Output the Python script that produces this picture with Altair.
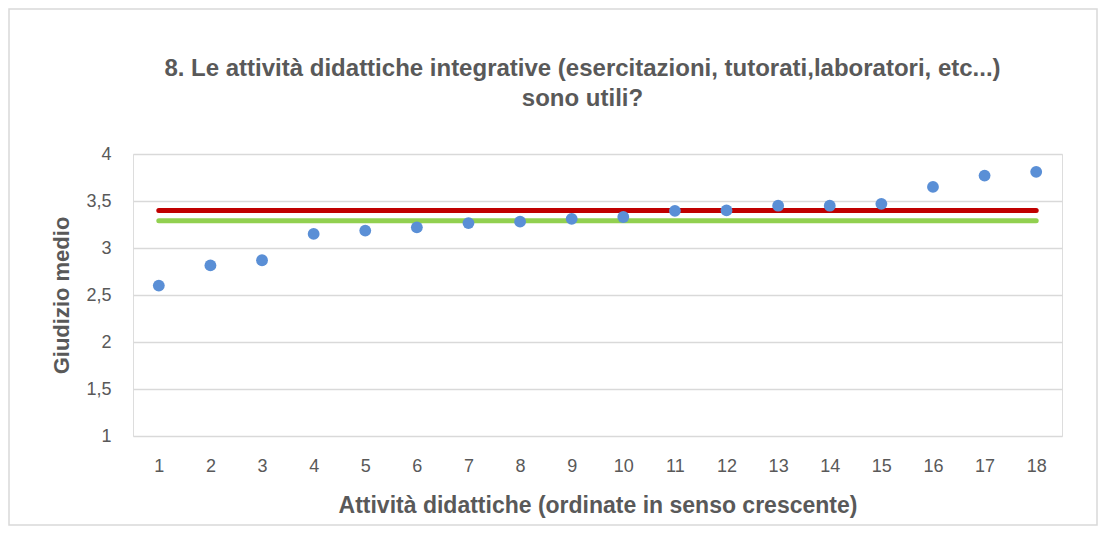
import altair as alt
import pandas as pd

# ---- data ----
categorie = list(range(1, 19))
giudizio_medio = [2.60, 2.815, 2.87, 3.15, 3.185, 3.22, 3.265, 3.28, 3.31,
                  3.33, 3.395, 3.40, 3.45, 3.45, 3.47, 3.65, 3.77, 3.81]
media_rossa = 3.40
media_verde = 3.29

titolo = ["8. Le attività didattiche integrative (esercitazioni, tutorati,laboratori, etc...)",
          "sono utili?"]
titolo_x = "Attività didattiche (ordinate in senso crescente)"
titolo_y = "Giudizio medio"

FONT = "Liberation Sans"
GREY = "#595959"
W, H = 929, 282
PAD = {"left": 125, "top": 146, "right": 36, "bottom": 90}

punti = pd.DataFrame({"cat": categorie, "val": giudizio_medio})
linee = pd.DataFrame({
    "cat": categorie * 2,
    "val": [media_rossa] * len(categorie) + [media_verde] * len(categorie),
    "serie": ["rossa"] * len(categorie) + ["verde"] * len(categorie),
})

x_enc = alt.X("cat:O", scale=alt.Scale(type="point", padding=0.5),
              axis=alt.Axis(title=titolo_x, labelAngle=0, grid=False, domain=False,
                            ticks=False, labelPadding=21, titlePadding=19,
                            labelFontSize=18, labelColor=GREY, labelFont=FONT,
                            titleFontSize=23, titleColor=GREY, titleFont=FONT,
                            titleFontWeight="bold"))
y_enc = alt.Y("val:Q", scale=alt.Scale(domain=[1, 4], nice=False, zero=False),
              axis=alt.Axis(title=titolo_y, values=[1, 1.5, 2, 2.5, 3, 3.5, 4],
                            labelExpr="replace(format(datum.value, '~g'), '.', ',')",
                            grid=True, gridColor="#d9d9d9", gridWidth=1.3,
                            domain=False, ticks=False, labelPadding=22, titlePadding=12,
                            labelFontSize=18, labelColor=GREY, labelFont=FONT,
                            titleFontSize=22, titleColor=GREY, titleFont=FONT,
                            titleFontWeight="bold"))

linee_chart = alt.Chart(linee).mark_line(strokeWidth=5, strokeCap="round").encode(
    x=x_enc, y=y_enc,
    detail="serie:N",
    color=alt.Color("serie:N", scale=alt.Scale(domain=["rossa", "verde"],
                                               range=["#C00000", "#92D050"]), legend=None),
)
punti_chart = alt.Chart(punti).mark_circle(size=140, opacity=1, color="#5A8FD6").encode(
    x=x_enc, y=y_enc
)
bordo = alt.Chart(pd.DataFrame({"k": [0]})).mark_rect(
    fill=None, stroke="#d9d9d9", strokeWidth=1.5
).encode(
    x=alt.value(-PAD["left"] + 1), x2=alt.value(W + PAD["right"] - 1),
    y=alt.value(-PAD["top"] + 1), y2=alt.value(H + PAD["bottom"] - 1),
)

chart = alt.layer(bordo, linee_chart, punti_chart).properties(
    width=W, height=H,
    autosize=alt.AutoSizeParams(type="none"),
    padding=PAD,
    title=alt.Title(titolo, font=FONT, fontSize=24, fontWeight="bold", color=GREY,
                    anchor="middle", offset=40, lineHeight=30, dx=-15, dy=143),
).configure_view(stroke=None).configure(background="white")

chart.save("out.html", embed_options={"renderer": "svg", "actions": False})
